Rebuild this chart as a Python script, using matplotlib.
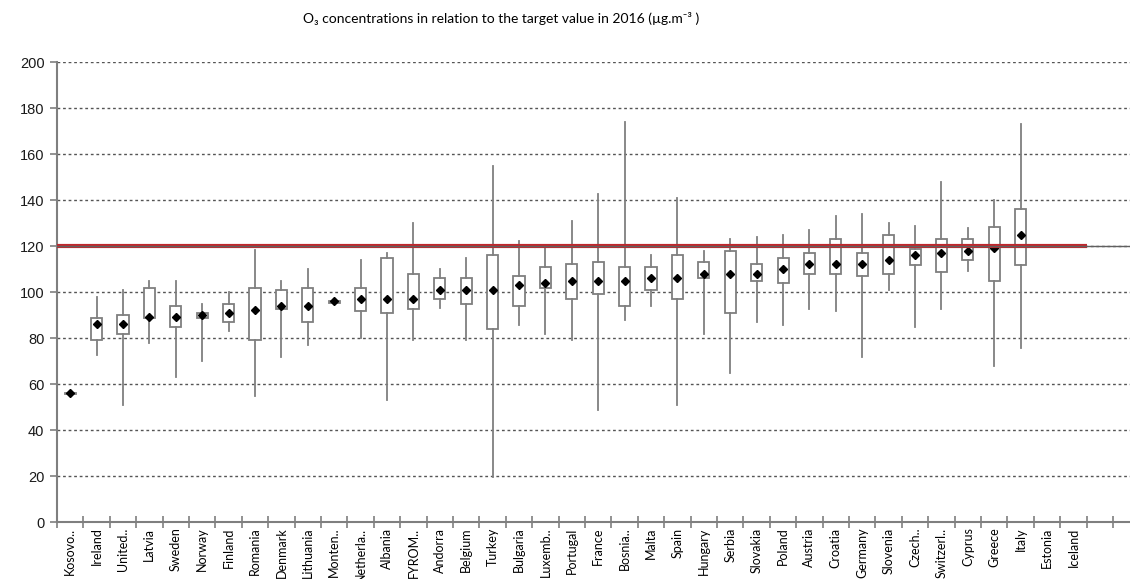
import numpy as np
import matplotlib.pyplot as plt

countries = ['Kosovo..', 'Ireland', 'United..', 'Latvia', 'Sweden', 'Norway',
             'Finland', 'Romania', 'Denmark', 'Lithuania', 'Monten..',
             'Netherla..', 'Albania', 'FYROM..', 'Andorra', 'Belgium', 'Turkey',
             'Bulgaria', 'Luxemb..', 'Portugal', 'France', 'Bosnia..', 'Malta',
             'Spain', 'Hungary', 'Serbia', 'Slovakia', 'Poland', 'Austria',
             'Croatia', 'Germany', 'Slovenia', 'Czech..', 'Switzerl..', 'Cyprus',
             'Greece', 'Italy', 'Estonia', 'Iceland', '']

# per-country station statistics (µg/m3); None = no data
v_min = [55.6, 72.8, 50.9, 77.8, 62.9, 69.8, 83.0, 54.9, 71.8, 76.8, 95.4,
         79.8, 53.1, 79.0, 92.9, 79.0, 19.5, 85.8, 81.9, 79.0, 48.7, 87.9,
         93.9, 50.7, 81.9, 64.9, 86.8, 85.7, 92.8, 91.9, 71.7, 100.7, 84.7,
         92.8, 109.0, 67.8, 75.7, None, None, None]
v_q1 = [55.6, 79.1, 81.9, 88.9, 84.7, 88.8, 87.0, 79.1, 92.7, 87.0, 95.4,
        91.8, 90.9, 92.8, 97.0, 94.8, 83.8, 93.9, 101.9, 96.8, 99.0, 93.9,
        100.9, 96.8, 105.9, 90.9, 104.9, 103.9, 107.8, 107.8, 106.8, 107.8,
        111.9, 108.8, 113.9, 104.9, 111.9, None, None, None]
v_q3 = [56.2, 88.9, 89.9, 101.7, 94.1, 90.9, 95.0, 101.7, 100.7, 101.7, 96.0,
        101.7, 114.8, 108.0, 106.1, 106.1, 115.9, 106.9, 111.0, 112.0, 113.0,
        111.0, 111.0, 115.9, 113.0, 117.9, 112.0, 114.9, 116.9, 123.0, 116.9,
        124.9, 118.9, 123.0, 123.0, 128.1, 136.2, None, None, None]
v_max = [56.2, 97.7, 100.7, 104.9, 104.9, 94.8, 99.9, 118.3, 104.9, 109.9, 96.0,
         114.0, 116.8, 129.9, 110.0, 115.0, 154.8, 122.0, 119.1, 130.9, 142.8,
         174.0, 115.9, 140.8, 117.9, 123.0, 123.9, 124.9, 126.9, 133.0, 134.1,
         129.9, 128.9, 147.7, 127.9, 139.8, 172.9, None, None, None]
v_mean = [56, 86, 86, 89, 89, 90, 91, 92, 94, 94, 96, 97, 97, 97, 101, 101, 101,
          103, 104, 105, 105, 105, 106, 106, 108, 108, 108, 110, 112, 112, 112,
          114, 116, 117, 118, 119, 125, None, None, None]

target_value = 120

plt.rcParams['font.family'] = ['Liberation Sans', 'DejaVu Sans']

fig = plt.figure(figsize=(11.3, 5.79), dpi=100)
ax = fig.add_axes([0.0504, 0.0984, 0.9496, 0.7945])

stats = []
positions = []
for i in range(len(countries)):
    if v_mean[i] is None:
        continue
    stats.append(dict(whislo=v_min[i], q1=v_q1[i], med=v_mean[i], q3=v_q3[i],
                      whishi=v_max[i], mean=v_mean[i], fliers=[]))
    positions.append(i)

grey = '#7f7f7f'
ax.bxp(stats, positions=positions, widths=0.42, patch_artist=True,
       showmeans=True, showcaps=False, showfliers=False,
       boxprops=dict(facecolor='white', edgecolor=grey, linewidth=1.3),
       whiskerprops=dict(color=grey, linewidth=1.3),
       medianprops=dict(linewidth=0),
       meanprops=dict(marker='D', markerfacecolor='black',
                      markeredgecolor='black', markersize=4.3),
       zorder=3)

# target value line
ax.axhline(target_value, color='#606060', linewidth=1, zorder=5)
ax.plot([-0.5, 38.5], [target_value, target_value], color='#c0272d',
        linewidth=3, zorder=4, solid_capstyle='butt')

ax.set_ylim(0, 200)
ax.set_xlim(-0.5, 40.14)
ax.set_yticks(np.arange(0, 201, 20))
ax.tick_params(axis='y', labelsize=10.5, length=5, color=grey, width=1.2,
               labelcolor='#1a1a1a', pad=4)
ax.yaxis.grid(True, linestyle=(0, (2, 2)), color='#555555', linewidth=1)
ax.set_axisbelow(True)

ax.set_xticks(np.arange(len(countries)))
ax.set_xticklabels(countries, rotation=90, fontsize=9, family=['Lato', 'DejaVu Sans'],
                   va='top')
ax.tick_params(axis='x', which='major', length=0, pad=4)
ax.set_xticks(np.arange(-0.5, len(countries), 1), minor=True)
ax.tick_params(axis='x', which='minor', direction='inout', length=8,
               color=grey, width=1.2)

for side in ['top', 'right']:
    ax.spines[side].set_visible(False)
for side in ['left', 'bottom']:
    ax.spines[side].set_color(grey)
    ax.spines[side].set_linewidth(1.5)

fig.text(0.4435, 0.968, 'O₃ concentrations in relation to the target value in 2016 (µg.m⁻³ )',
         ha='center', va='center', fontsize=10, family=['Lato', 'DejaVu Sans'])

fig.savefig('out.png', dpi=100)
